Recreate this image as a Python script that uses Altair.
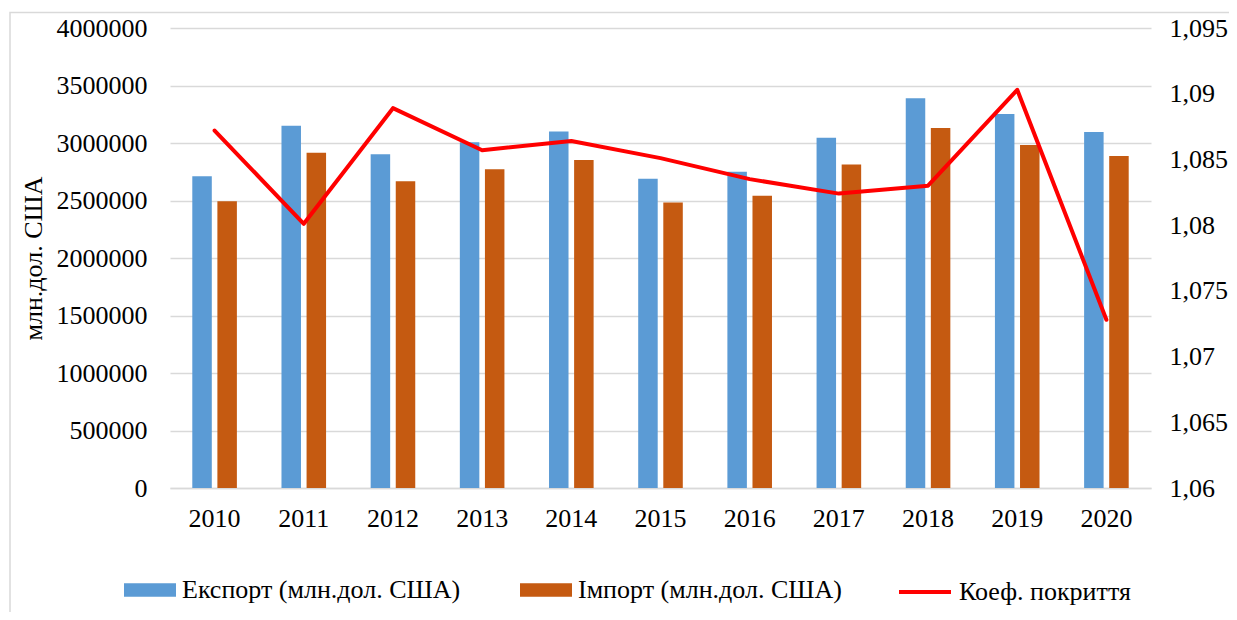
import altair as alt
import pandas as pd

years = ["2010", "2011", "2012", "2013", "2014", "2015", "2016", "2017", "2018", "2019", "2020"]
export_vals = [2710000, 3151000, 2902000, 3006000, 3099000, 2690000, 2751000, 3045000, 3389000, 3252000, 3096000]
import_vals = [2493000, 2916000, 2667000, 2771000, 2852000, 2482000, 2542000, 2812000, 3130000, 2983000, 2887000]
coef_vals = [1.0872, 1.0801, 1.0889, 1.0857, 1.0864, 1.0851, 1.0835, 1.0824, 1.0830, 1.0903, 1.0728]

series_names = ["Експорт (млн.дол. США)", "Імпорт (млн.дол. США)"]
coef_name = "Коеф. покриття"
left_ticks = [0, 500000, 1000000, 1500000, 2000000, 2500000, 3000000, 3500000, 4000000]
right_ticks = [1.06, 1.065, 1.07, 1.075, 1.08, 1.085, 1.09, 1.095]
y_title = "млн.дол. США"

FONT = "Liberation Serif"
FS = 26
GRID = "#d9d9d9"

bars_df = pd.DataFrame({
    "year": years * 2,
    "series": [series_names[0]] * len(years) + [series_names[1]] * len(years),
    "value": export_vals + import_vals,
})
line_df = pd.DataFrame({"year": years, "coef": coef_vals, "name": [coef_name] * len(years)})

x_enc = alt.X("year:N", sort=years,
              scale=alt.Scale(paddingInner=0.5, paddingOuter=0.25),
              axis=alt.Axis(title=None, labelAngle=0, ticks=False, domain=True,
                            domainColor=GRID, domainWidth=1.5, grid=False,
                            labelFont=FONT, labelFontSize=FS, labelColor="#000000",
                            labelPadding=17))

bars = alt.Chart(bars_df).mark_bar().encode(
    x=x_enc,
    xOffset=alt.XOffset("series:N", sort=series_names,
                        scale=alt.Scale(domain=series_names, paddingInner=0.223, paddingOuter=0)),
    y=alt.Y("value:Q", scale=alt.Scale(domain=[0, 4000000], nice=False),
            axis=alt.Axis(values=left_ticks, format="d", title=y_title, grid=True,
                          gridColor=GRID, gridWidth=1.5, domain=False, ticks=False,
                          labelFont=FONT, labelFontSize=FS, labelColor="#000000",
                          labelPadding=23, titleFont=FONT, titleFontSize=FS,
                          titleFontWeight="normal", titleColor="#000000", titlePadding=10)),
    fill=alt.Fill("series:N", scale=alt.Scale(domain=series_names, range=["#5B9BD5", "#C55A11"]),
                  legend=alt.Legend(title=None, orient="none", legendX=-46, legendY=536,
                                    direction="horizontal", symbolType="M-1,-0.26H1V0.26H-1Z",
                                    symbolSize=2704, symbolStrokeWidth=0, labelFont=FONT,
                                    labelFontSize=FS, labelColor="#000000", labelOffset=6,
                                    columnPadding=59, labelLimit=500)),
)

line = alt.Chart(line_df).mark_line(strokeWidth=4, strokeCap="round", strokeJoin="round").encode(
    x=alt.X("year:N", sort=years),
    y=alt.Y("coef:Q", scale=alt.Scale(domain=[1.06, 1.095], nice=False, zero=False),
            axis=alt.Axis(orient="right", values=right_ticks, title=None, grid=False,
                          domain=False, ticks=False,
                          labelExpr="replace(format(datum.value, '.3~f'), '.', ',')",
                          labelFont=FONT, labelFontSize=FS, labelColor="#000000",
                          labelPadding=18)),
    stroke=alt.Stroke("name:N", scale=alt.Scale(domain=[coef_name], range=["#FF0000"]),
                      legend=alt.Legend(title=None, orient="none", legendX=727, legendY=536,
                                        symbolType="M-1,0H1", symbolSize=2704,
                                        symbolStrokeWidth=4, labelFont=FONT, labelFontSize=FS,
                                        labelColor="#000000", labelOffset=6, labelLimit=500)),
)

border = alt.Chart(pd.DataFrame({"a": [0]})).mark_rect(
    fill=None, stroke=GRID, strokeWidth=1.5
).encode(x=alt.value(-160), x2=alt.value(1200), y=alt.value(-15.5), y2=alt.value(800))

chart = alt.layer(border, bars, line).resolve_scale(
    y="independent", fill="independent", stroke="independent"
).properties(
    width=981, height=460,
    autosize=alt.AutoSizeParams(type="none"),
    padding={"left": 162, "top": 20, "right": 78, "bottom": 124},
    background="#ffffff",
).configure_view(stroke=None)

chart.save("out.html", embed_options={"renderer": "svg", "actions": False})
